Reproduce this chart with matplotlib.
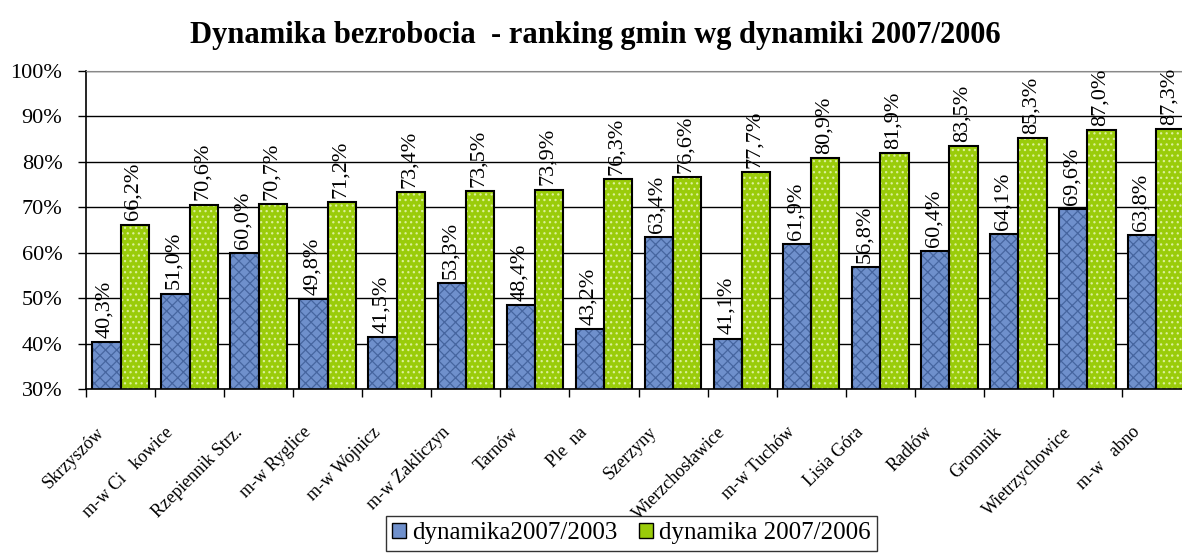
import numpy as np
import matplotlib.pyplot as plt
import matplotlib.transforms as mtransforms

plt.rcParams['font.family'] = ['Liberation Serif', 'DejaVu Serif']
plt.rcParams['hatch.linewidth'] = 0.9

# data
gminy = ['Skrzyszów', 'm-w Ci   kowice', 'Rzepiennik Strz.', 'm-w Ryglice', 'm-w Wojnicz',
         'm-w Zakliczyn', 'Tarnów', 'Ple  na', 'Szerzyny', 'Wierzchosławice', 'm-w Tuchów',
         'Lisia Góra', 'Radłów', 'Gromnik', 'Wietrzychowice', 'm-w   abno']
dyn_2003 = [40.3, 51.0, 60.0, 49.8, 41.5, 53.3, 48.4, 43.2, 63.4, 41.1, 61.9, 56.8, 60.4, 64.1, 69.6, 63.8]
dyn_2006 = [66.2, 70.6, 70.7, 71.2, 73.4, 73.5, 73.9, 76.3, 76.6, 77.7, 80.9, 81.9, 83.5, 85.3, 87.0, 87.3]
yticks = [30, 40, 50, 60, 70, 80, 90, 100]

fig = plt.figure(figsize=(11.82, 5.55), dpi=100)
ax = fig.add_axes([86/1182, 0.299, 1105/1182, 0.573])

x = np.arange(len(gminy))
w = 0.41
blue, blue_tex = '#6f90cc', '#46659f'
green, green_tex = '#9acc0a', '#dcf09a'

ax.bar(x - w/2, dyn_2003, w, color=blue, edgecolor=blue_tex, hatch='xxx', linewidth=0, zorder=2)
ax.bar(x + w/2, dyn_2006, w, color=green, edgecolor=green_tex, hatch='...', linewidth=0, zorder=2)
ax.bar(x - w/2, dyn_2003, w, fill=False, edgecolor='black', linewidth=1.5, zorder=3)
ax.bar(x + w/2, dyn_2006, w, fill=False, edgecolor='black', linewidth=1.5, zorder=3)

for xs, vals in [(x - w/2, dyn_2003), (x + w/2, dyn_2006)]:
    for xi, v in zip(xs, vals):
        ax.annotate(f'{v:.1f}%'.replace('.', ','), (xi, v), xytext=(-1, 3), textcoords='offset points',
                    rotation=90, ha='center', va='bottom', fontsize=16, zorder=4)

ax.set_ylim(30, 100)
ax.set_xlim(-0.5, len(gminy) - 0.5)
ax.set_yticks(yticks)
ax.set_yticklabels([f'{t}%' for t in yticks], fontsize=16)
ax.yaxis.grid(True, color='black', linewidth=1)
ax.set_axisbelow(True)
ax.tick_params(axis='y', length=6, width=1, color='black', pad=11)

ax.set_xticks(np.arange(len(gminy) + 1) - 0.5, minor=False)
ax.set_xticklabels([])
ax.tick_params(axis='x', length=6, width=1, direction='out')
ax.set_xticks(x, minor=True)
ax.set_xticklabels(gminy, minor=True, rotation=45, ha='right', va='top',
                   rotation_mode='anchor', fontsize=13)
ax.tick_params(axis='x', which='minor', length=0, pad=25)
off = mtransforms.ScaledTranslation(-25/100, 0, fig.dpi_scale_trans)
for lbl in ax.get_xticklabels(minor=True):
    lbl.set_transform(lbl.get_transform() + off)

ax.spines['top'].set_color('#888888')
ax.spines['right'].set_visible(False)
ax.spines['left'].set_linewidth(1.2)
ax.spines['bottom'].set_linewidth(1.2)

fig.text(595/1182, 1 - 36/555, 'Dynamika bezrobocia  - ranking gmin wg dynamiki 2007/2006',
         ha='center', va='center', fontsize=22, fontweight='bold')

h1 = plt.Rectangle((0, 0), 1, 1, facecolor=blue, edgecolor='black')
h2 = plt.Rectangle((0, 0), 1, 1, facecolor=green, edgecolor='black')
leg = fig.legend([h1, h2], ['dynamika2007/2003', 'dynamika 2007/2006'], loc='upper left',
                 bbox_to_anchor=(386/1182, 1 - 516/555), ncol=2, frameon=True, fancybox=False,
                 edgecolor='black', fontsize=18, handlelength=0.55, handleheight=0.55,
                 handletextpad=0.25, columnspacing=0.85, borderpad=0.25, borderaxespad=0)
leg.get_frame().set_linewidth(1)
leg.set_zorder(10)

fig.savefig('out.png', dpi=100)
